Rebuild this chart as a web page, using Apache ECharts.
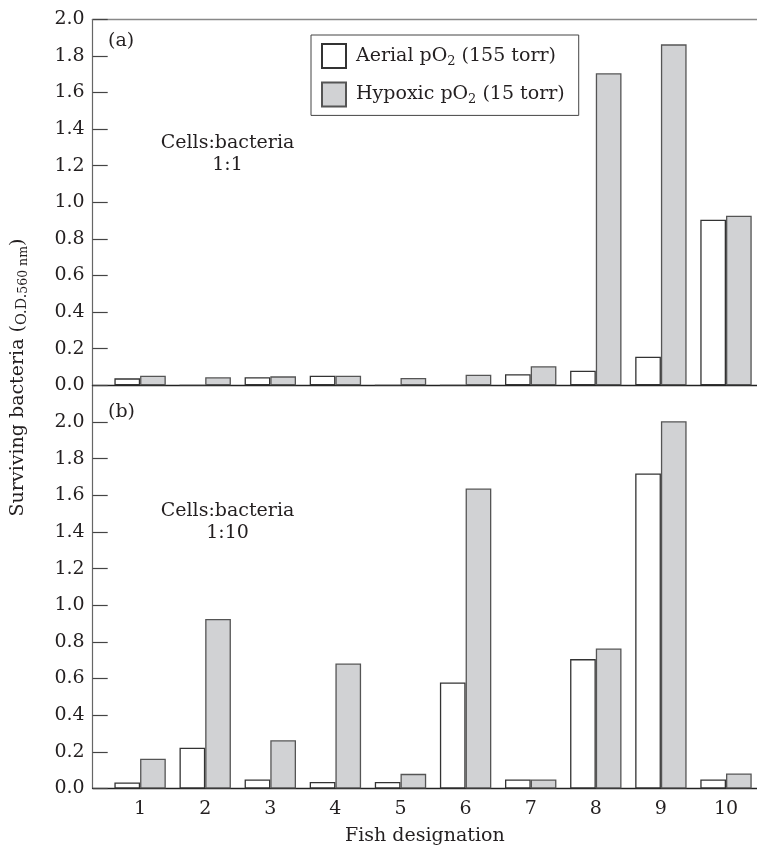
<!DOCTYPE html>
<html>
<head>
<meta charset="utf-8">
<script src="https://cdn.jsdelivr.net/npm/echarts@6/dist/echarts.min.js"></script>
<style>
html,body{margin:0;padding:0;background:#fff;}
#chart{width:757px;height:847px;}
</style>
</head>
<body>
<div id="chart"></div>
<script>
// ---- data ----
const fish = [1, 2, 3, 4, 5, 6, 7, 8, 9, 10];
const seriesNames = ['Aerial pO2 (155 torr)', 'Hypoxic pO2 (15 torr)'];
// (a) Cells:bacteria 1:1
const aerialA  = [0.038, 0, 0.044, 0.052, 0, 0, 0.060, 0.080, 0.156, 0.905];
const hypoxicA = [0.052, 0.044, 0.049, 0.052, 0.040, 0.058, 0.104, 1.705, 1.863, 0.927];
// (b) Cells:bacteria 1:10
const aerialB  = [0.033, 0.223, 0.049, 0.036, 0.036, 0.578, 0.049, 0.706, 1.719, 0.049];
const hypoxicB = [0.163, 0.925, 0.263, 0.682, 0.080, 1.637, 0.049, 0.764, 2.004, 0.082];
const yTicks = [0, 0.2, 0.4, 0.6, 0.8, 1.0, 1.2, 1.4, 1.6, 1.8, 2.0];

// ---- style ----
const FONT = 'DejaVu Serif';
const TXT = '#231f20';
const GRAY = '#d1d2d4';

const chart = echarts.init(document.getElementById('chart'), null, {renderer: 'canvas'});

const xMin = 0.272, xMax = 10.476;

function pairs(vals) { return fish.map((f, i) => [f, vals[i]]); }

const yLabel = {
  show: true, inside: false, margin: 8,
  fontFamily: FONT, fontSize: 19, color: TXT,
  customValues: yTicks,
  formatter: v => v.toFixed(1)
};
const yTick = {show: true, inside: true, length: 15, lineStyle: {color: '#444', width: 1.2}, customValues: yTicks};

function barSeries(name, vals, xi, yi, fill, border) {
  return {
    type: 'bar', name: name, data: pairs(vals),
    xAxisIndex: xi, yAxisIndex: yi,
    barWidth: 25.7, barGap: '0%',
    itemStyle: {color: fill, borderColor: border, borderWidth: 1.3},
    emphasis: {disabled: true},
    animation: false
  };
}

const option = {
  backgroundColor: '#fff',
  animation: false,
  textStyle: {fontFamily: FONT},
  grid: [
    {left: 92.7, right: 0, top: 19.3, height: 366},
    {left: 92.7, right: 0, top: 385.3, height: 403.2}
  ],
  legend: {
    orient: 'vertical', left: 311, top: 35,
    padding: [8, 14, 8, 10],
    itemWidth: 24, itemHeight: 24, itemGap: 12.4,
    borderColor: '#444', borderWidth: 1,
    icon: 'rect',
    selectedMode: false,
    data: seriesNames,
    formatter: n => n.replace('pO2', 'pO{s|2}'),
    textStyle: {
      fontFamily: FONT, fontSize: 19, color: TXT, lineHeight: 24,
      padding: [0, 0, 0, 5],
      rich: {
        s: {fontFamily: FONT, fontSize: 13, lineHeight: 13, verticalAlign: 'bottom', color: TXT}
      }
    }
  },
  xAxis: [
    {
      gridIndex: 0, type: 'value', min: xMin, max: xMax, position: 'bottom',
      axisLine: {show: true, onZero: false, lineStyle: {color: '#222', width: 1.4}},
      axisTick: {show: false}, axisLabel: {show: false}, splitLine: {show: false}
    },
    {
      gridIndex: 0, type: 'value', min: xMin, max: xMax, position: 'top',
      axisLine: {show: true, onZero: false, lineStyle: {color: '#888', width: 1.3}},
      axisTick: {show: false}, axisLabel: {show: false}, splitLine: {show: false}
    },
    {
      gridIndex: 1, type: 'value', min: xMin, max: xMax, position: 'bottom',
      axisLine: {show: true, onZero: false, lineStyle: {color: '#222', width: 1.4}},
      axisTick: {show: false}, splitLine: {show: false},
      axisLabel: {
        show: true, customValues: fish, margin: 11,
        fontFamily: FONT, fontSize: 19, color: TXT,
        formatter: v => String(Math.round(v))
      },
      name: 'Fish designation', nameLocation: 'middle', nameGap: 38,
      nameTextStyle: {fontFamily: FONT, fontSize: 19, color: TXT}
    }
  ],
  yAxis: [
    {
      gridIndex: 0, type: 'value', min: 0, max: 2.0,
      axisLine: {show: true, lineStyle: {color: '#666', width: 1.2}},
      axisTick: yTick, axisLabel: yLabel, splitLine: {show: false}
    },
    {
      gridIndex: 1, type: 'value', min: 0, max: 2.2,
      axisLine: {show: true, lineStyle: {color: '#666', width: 1.2}},
      axisTick: yTick, axisLabel: yLabel, splitLine: {show: false}
    }
  ],
  graphic: [
    {type: 'text', x: 108, y: 41, style: {text: '(a)', font: '19px "DejaVu Serif"', fill: TXT, textAlign: 'left', textVerticalAlign: 'middle'}},
    {type: 'text', x: 108, y: 412.5, style: {text: '(b)', font: '19px "DejaVu Serif"', fill: TXT, textAlign: 'left', textVerticalAlign: 'middle'}},
    {type: 'text', x: 227.5, y: 154, style: {text: 'Cells:bacteria\n1:1', font: '19px "DejaVu Serif"', lineHeight: 21.7, fill: TXT, textAlign: 'center', textVerticalAlign: 'middle'}},
    {type: 'text', x: 227.5, y: 522, style: {text: 'Cells:bacteria\n1:10', font: '19px "DejaVu Serif"', lineHeight: 21.7, fill: TXT, textAlign: 'center', textVerticalAlign: 'middle'}},
    {
      type: 'text', x: 18, y: 377.5, rotation: Math.PI / 2,
      style: {
        text: 'Surviving bacteria {p|(}{od|O.D.}{sub|560 nm}{p|)}',
        font: '19px "DejaVu Serif"', fill: TXT, lineHeight: 24,
        textAlign: 'center', textVerticalAlign: 'middle',
        rich: {
          p: {fontFamily: FONT, fontSize: 19, lineHeight: 24, fill: TXT},
          od: {fontFamily: FONT, fontSize: 14.5, lineHeight: 21, verticalAlign: 'bottom', fill: TXT},
          sub: {fontFamily: FONT, fontSize: 12.5, lineHeight: 13, verticalAlign: 'bottom', fill: TXT}
        }
      }
    }
  ],
  series: [
    barSeries(seriesNames[0], aerialA, 0, 0, '#ffffff', '#333'),
    barSeries(seriesNames[1], hypoxicA, 0, 0, GRAY, '#555'),
    barSeries(seriesNames[0], aerialB, 2, 1, '#ffffff', '#333'),
    barSeries(seriesNames[1], hypoxicB, 2, 1, GRAY, '#555')
  ]
};

chart.setOption(option);
</script>
</body>
</html>
